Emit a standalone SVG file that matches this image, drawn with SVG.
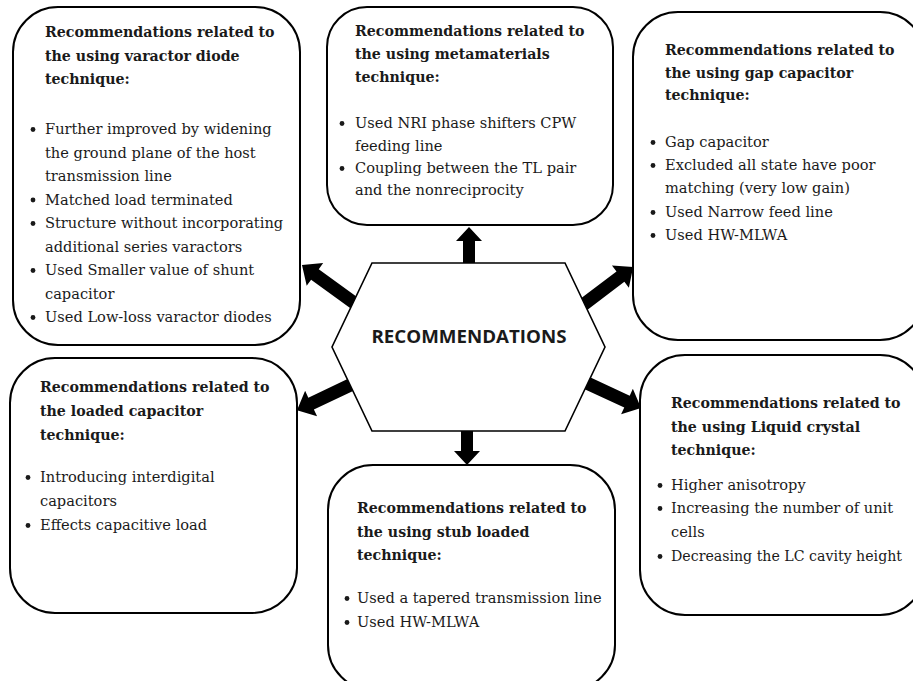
<svg xmlns="http://www.w3.org/2000/svg" width="913" height="681" viewBox="0 0 913 681">
<style>
.box{fill:#fff;stroke:#000;stroke-width:2}
.hex{fill:#fff;stroke:#000;stroke-width:1.6}
.t{font-family:"DejaVu Serif","Liberation Serif",serif;font-size:14.6px;fill:#1a1a1a}
.h{font-weight:bold;font-size:14.2px}
.dot{fill:#1a1a1a}
.arr{fill:#000}
.ct{font-family:"Open Sans","Liberation Sans",sans-serif;font-size:18.5px;font-weight:bold;fill:#1a1a1a}
</style>
<rect width="913" height="681" fill="#fff"/>

<g id="box-varactor">
<rect class="box" x="13" y="7" width="287" height="338" rx="45"/>
<text class="t h" x="45" y="37">Recommendations related to</text>
<text class="t h" x="45" y="60.5">the using varactor diode</text>
<text class="t h" x="45" y="84">technique:</text>
<circle class="dot" cx="33" cy="129.5" r="2.4"/>
<text class="t" x="45" y="134">Further improved by widening</text>
<text class="t" x="45" y="157.5">the ground plane of the host</text>
<text class="t" x="45" y="181">transmission line</text>
<circle class="dot" cx="33" cy="200" r="2.4"/>
<text class="t" x="45" y="204.5">Matched load terminated</text>
<circle class="dot" cx="33" cy="223.5" r="2.4"/>
<text class="t" x="45" y="228">Structure without incorporating</text>
<text class="t" x="45" y="251.5">additional series varactors</text>
<circle class="dot" cx="33" cy="270.5" r="2.4"/>
<text class="t" x="45" y="275">Used Smaller value of shunt</text>
<text class="t" x="45" y="298.5">capacitor</text>
<circle class="dot" cx="33" cy="317.5" r="2.4"/>
<text class="t" x="45" y="322">Used Low-loss varactor diodes</text>
</g>

<g id="box-metamaterials">
<rect class="box" x="327" y="7" width="286" height="218" rx="40"/>
<text class="t h" x="355" y="36">Recommendations related to</text>
<text class="t h" x="355" y="59">the using metamaterials</text>
<text class="t h" x="355" y="82">technique:</text>
<circle class="dot" cx="342" cy="123.5" r="2.4"/>
<text class="t" x="355" y="128">Used NRI  phase shifters CPW</text>
<text class="t" x="355" y="151">feeding line</text>
<circle class="dot" cx="342" cy="168.5" r="2.4"/>
<text class="t" x="355" y="173">Coupling between the TL pair</text>
<text class="t" x="355" y="195">and the nonreciprocity</text>
</g>

<g id="box-gap">
<rect class="box" x="633" y="12" width="292" height="328" rx="45"/>
<text class="t h" x="665" y="55">Recommendations related to</text>
<text class="t h" x="665" y="78">the using gap capacitor</text>
<text class="t h" x="665" y="100">technique:</text>
<circle class="dot" cx="653" cy="142.5" r="2.4"/>
<text class="t" x="665" y="147">Gap capacitor</text>
<circle class="dot" cx="653" cy="165.5" r="2.4"/>
<text class="t" x="665" y="170">Excluded all state have poor</text>
<text class="t" x="665" y="193">matching (very low gain)</text>
<circle class="dot" cx="653" cy="212.5" r="2.4"/>
<text class="t" x="665" y="217">Used Narrow feed line</text>
<circle class="dot" cx="653" cy="235.5" r="2.4"/>
<text class="t" x="665" y="240">Used HW-MLWA</text>
</g>

<g id="box-loaded">
<rect class="box" x="10" y="358" width="287" height="255" rx="45"/>
<text class="t h" x="40" y="392">Recommendations related to</text>
<text class="t h" x="40" y="416">the loaded capacitor</text>
<text class="t h" x="40" y="440">technique:</text>
<circle class="dot" cx="28" cy="477.5" r="2.4"/>
<text class="t" x="40" y="482">Introducing interdigital</text>
<text class="t" x="40" y="506">capacitors</text>
<circle class="dot" cx="28" cy="525.5" r="2.4"/>
<text class="t" x="40" y="530">Effects capacitive load</text>
</g>

<g id="box-liquid">
<rect class="box" x="640" y="355" width="285" height="260" rx="45"/>
<text class="t h" x="671" y="408">Recommendations related to</text>
<text class="t h" x="671" y="432">the using Liquid crystal</text>
<text class="t h" x="671" y="455">technique:</text>
<circle class="dot" cx="660" cy="485.5" r="2.4"/>
<text class="t" x="671" y="490">Higher anisotropy</text>
<circle class="dot" cx="660" cy="508.5" r="2.4"/>
<text class="t" x="671" y="513">Increasing the number of unit</text>
<text class="t" x="671" y="537">cells</text>
<circle class="dot" cx="660" cy="556.5" r="2.4"/>
<text class="t" x="671" y="561" textLength="231" lengthAdjust="spacingAndGlyphs">Decreasing the LC cavity height</text>
</g>

<g id="box-stub">
<rect class="box" x="328" y="465" width="287" height="225" rx="45"/>
<text class="t h" x="357" y="513">Recommendations related to</text>
<text class="t h" x="357" y="537">the using stub loaded</text>
<text class="t h" x="357" y="560">technique:</text>
<circle class="dot" cx="347" cy="598.5" r="2.4"/>
<text class="t" x="357" y="603">Used a tapered transmission line</text>
<circle class="dot" cx="347" cy="622.5" r="2.4"/>
<text class="t" x="357" y="627">Used HW-MLWA</text>
</g>

<g id="connectors">
<polygon class="arr" transform="translate(469,268) rotate(-90)" points="0,-6 27,-6 27,-13 41,0 27,13 27,6 0,6"/>
<polygon class="arr" transform="translate(467,428) rotate(90)" points="0,-6 23,-6 23,-13 37,0 23,13 23,6 0,6"/>
<polygon class="arr" transform="translate(357,305) rotate(216)" points="0,-6.5 52,-6.5 52,-14 68,0 52,14 52,6.5 0,6.5"/>
<polygon class="arr" transform="translate(579,308) rotate(-37.2)" points="0,-6.5 52,-6.5 52,-14 68,0 52,14 52,6.5 0,6.5"/>
<polygon class="arr" transform="translate(354.5,383) rotate(154.7)" points="0,-6.5 48,-6.5 48,-14 63.6,0 48,14 48,6.5 0,6.5"/>
<polygon class="arr" transform="translate(582.5,381) rotate(24.8)" points="0,-6.5 49,-6.5 49,-14 64.5,0 49,14 49,6.5 0,6.5"/>
</g>

<g id="center">
<polygon class="hex" points="372,263 565,263 605,347 565,431 372,431 332,347"/>
<text class="ct" x="469" y="343" text-anchor="middle" textLength="195" lengthAdjust="spacingAndGlyphs">RECOMMENDATIONS</text>
</g>
</svg>
